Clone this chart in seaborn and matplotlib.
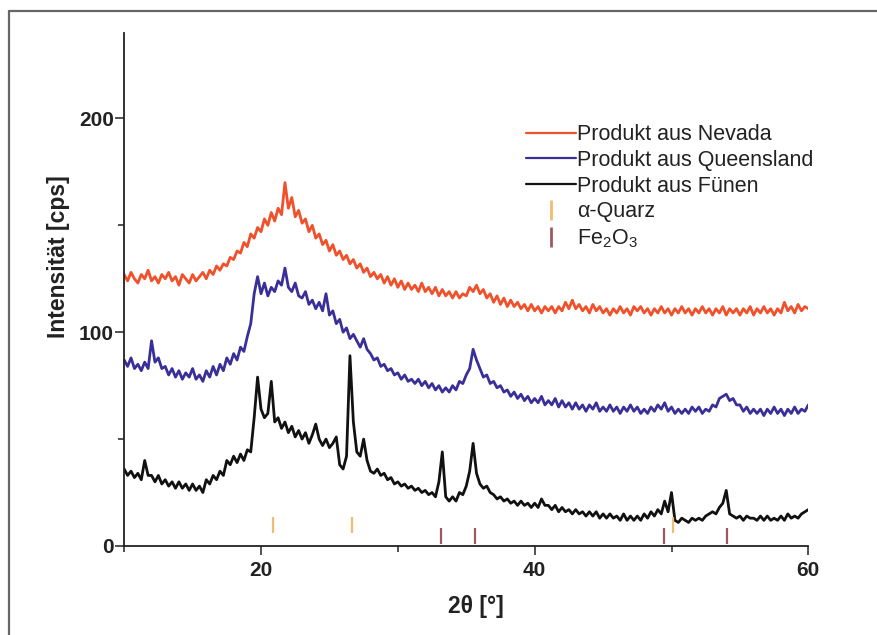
import numpy as np
import pandas as pd
import matplotlib
matplotlib.use("Agg")
import matplotlib.pyplot as plt
import seaborn as sns
from matplotlib.lines import Line2D

# ---- data (2theta grid starts at 10 deg, step 0.25 deg) ----
x_start = 10.0
x_step = 0.25

nevada = [
    127, 124, 128, 125, 123, 127, 125, 129, 124, 126, 123, 127, 125, 128, 124, 126, 122, 127, 125, 123,
    127, 124, 126, 128, 125, 129, 127, 131, 129, 132, 131, 135, 134, 138, 137, 142, 140, 146, 144, 149,
    147, 153, 150, 156, 152, 158, 155, 170, 158, 163, 154, 157, 151, 153, 147, 150, 144, 146, 141, 143,
    138, 141, 136, 138, 134, 136, 132, 134, 130, 132, 128, 130, 126, 128, 125, 127, 123, 126, 122, 125,
    121, 124, 120, 123, 120, 122, 119, 123, 119, 121, 118, 121, 117, 120, 117, 119, 116, 119, 116, 118,
    117, 121, 119, 122, 118, 120, 116, 118, 114, 117, 113, 116, 112, 115, 112, 114, 111, 113, 110, 113,
    110, 112, 109, 112, 110, 112, 109, 112, 110, 114, 111, 115, 111, 113, 110, 112, 109, 113, 110, 112,
    109, 111, 108, 111, 109, 112, 109, 111, 108, 112, 110, 112, 109, 111, 108, 111, 109, 112, 109, 111,
    108, 111, 109, 112, 109, 111, 108, 111, 109, 112, 109, 111, 108, 111, 109, 112, 108, 111, 109, 111,
    108, 111, 109, 112, 108, 111, 109, 112, 109, 111, 108, 111, 109, 114, 110, 112, 109, 113, 110, 112,
    111,
]

queensland = [
    87, 84, 88, 83, 85, 82, 86, 83, 96, 86, 88, 83, 84, 80, 83, 79, 82, 78, 81, 79,
    83, 78, 80, 77, 82, 79, 84, 80, 85, 82, 88, 85, 90, 87, 93, 91, 98, 104, 118, 126,
    118, 123, 117, 121, 119, 124, 122, 130, 121, 119, 123, 117, 116, 119, 113, 115, 111, 114, 110, 118,
    108, 110, 104, 106, 100, 102, 97, 99, 96, 93, 97, 92, 90, 87, 88, 84, 85, 82, 83, 80,
    81, 78, 80, 77, 78, 76, 78, 75, 77, 74, 76, 73, 75, 72, 74, 72, 75, 73, 77, 76,
    80, 83, 92, 87, 83, 79, 80, 76, 77, 74, 75, 72, 73, 70, 72, 69, 71, 68, 70, 67,
    69, 67, 70, 66, 68, 66, 69, 65, 68, 65, 67, 64, 67, 64, 66, 63, 66, 64, 67, 63,
    65, 63, 66, 63, 65, 62, 65, 63, 66, 63, 65, 62, 64, 62, 65, 63, 66, 64, 67, 63,
    65, 62, 64, 62, 64, 62, 65, 63, 65, 62, 64, 63, 66, 65, 69, 70, 71, 68, 69, 66,
    66, 63, 65, 62, 64, 62, 64, 61, 64, 62, 65, 62, 64, 61, 64, 62, 65, 62, 64, 63,
    66,
]

fuenen = [
    36, 33, 35, 32, 34, 31, 40, 33, 33, 30, 33, 29, 31, 28, 30, 27, 30, 27, 29, 26,
    29, 26, 28, 25, 31, 29, 33, 31, 35, 33, 40, 38, 42, 39, 43, 40, 45, 44, 60, 79,
    64, 60, 62, 77, 58, 60, 55, 58, 53, 56, 51, 54, 50, 53, 48, 52, 57, 50, 47, 50,
    46, 48, 51, 38, 36, 42, 89, 58, 44, 42, 50, 40, 35, 34, 36, 33, 34, 31, 32, 29,
    30, 28, 29, 27, 28, 26, 27, 25, 26, 24, 25, 23, 30, 44, 23, 21, 23, 21, 25, 24,
    28, 35, 48, 34, 29, 27, 28, 25, 24, 22, 23, 21, 22, 20, 21, 19, 21, 19, 20, 18,
    20, 18, 22, 19, 19, 17, 19, 16, 18, 16, 17, 15, 17, 15, 16, 14, 16, 14, 16, 13,
    15, 13, 15, 13, 14, 12, 15, 12, 14, 12, 14, 12, 15, 13, 16, 14, 17, 15, 21, 16,
    25, 12, 11, 13, 12, 11, 13, 12, 13, 12, 14, 15, 16, 15, 18, 20, 26, 15, 14, 13,
    14, 12, 14, 13, 13, 12, 14, 12, 14, 12, 13, 12, 14, 12, 15, 13, 14, 13, 15, 16,
    17,
]

quartz_pos = [20.85, 26.64, 50.14]
hematite_pos = [33.15, 35.61, 49.48, 54.09]

labels = ["Produkt aus Nevada", "Produkt aus Queensland", "Produkt aus Fünen"]
ref_labels = ["α-Quarz", "Fe$_2$O$_3$"]

# ---- styling ----
c_nev = "#f0502a"
c_qld = "#3a2f98"
c_fue = "#111111"
c_qz = "#f3bb70"
c_fe = "#9c5a60"

sns.set_style("ticks")
plt.rcParams["font.family"] = ["Liberation Sans", "DejaVu Sans"]
plt.rcParams["mathtext.fontset"] = "custom"
plt.rcParams["mathtext.rm"] = "Liberation Sans"
plt.rcParams["mathtext.it"] = "Liberation Sans:italic"
plt.rcParams["mathtext.bf"] = "Liberation Sans:bold"

frames = []
for name, vals in zip(labels, [nevada, queensland, fuenen]):
    xs = x_start + x_step * np.arange(len(vals))
    frames.append(pd.DataFrame({"x": xs, "y": vals, "s": name}))
df = pd.concat(frames, ignore_index=True)

fig = plt.figure(figsize=(8.77, 6.35), dpi=100)
ax = fig.add_axes([0.1416, 0.1402, 0.7801, 0.8079])

sns.lineplot(data=df, x="x", y="y", hue="s", palette=[c_nev, c_qld, c_fue],
             estimator=None, sort=False, lw=2.0, legend=False, ax=ax)

ax.vlines(quartz_pos, 6, 13.5, color=c_qz, lw=1.6)
ax.vlines(hematite_pos, 1, 8.5, color=c_fe, lw=1.6)

ax.set_xlim(10, 60)
ax.set_ylim(0, 240)
ax.set_xticks([20, 40, 60])
ax.set_xticks([10, 30, 50], minor=True)
ax.set_yticks([0, 100, 200])
ax.set_yticks([50, 150], minor=True)
ax.tick_params(axis="both", which="major", length=6.5, width=1.1, color="#222222",
               labelsize=15, direction="out")
ax.tick_params(axis="both", which="minor", length=4, width=1.1, color="#222222", direction="out")
ax.tick_params(axis="x", pad=4)
ax.tick_params(axis="y", pad=1)
for lab in ax.get_xticklabels() + ax.get_yticklabels():
    lab.set_fontweight("bold")
    lab.set_color("#222222")

for side in ["top", "right"]:
    ax.spines[side].set_visible(False)
for side in ["left", "bottom"]:
    ax.spines[side].set_linewidth(1.3)
    ax.spines[side].set_color("#222222")

ax.set_xlabel("2θ [°]", fontsize=16.5, fontweight="bold", color="#222222")
ax.set_ylabel("Intensität [cps]", fontsize=16.5, fontweight="bold", color="#222222")
ax.xaxis.set_label_coords(0.514, -0.095)
ax.yaxis.set_label_coords(-0.079, 0.564)

handles = [
    Line2D([], [], color=c_nev, lw=1.6),
    Line2D([], [], color=c_qld, lw=1.6),
    Line2D([], [], color=c_fue, lw=1.6),
    Line2D([], [], color=c_qz, marker="|", ls="none", ms=14, mew=2),
    Line2D([], [], color=c_fe, marker="|", ls="none", ms=14, mew=2),
]
leg = ax.legend(handles, labels + ref_labels, loc="upper left",
                bbox_to_anchor=(0.588, 0.822), frameon=False, fontsize=15.5,
                handlelength=2.3, handletextpad=0.05, labelspacing=0.22,
                borderpad=0, borderaxespad=0)
for t in leg.get_texts():
    t.set_color("#222222")

# outer frame (partial border of the original picture)
fig.add_artist(Line2D([9 / 877, 1.0], [1 - 11 / 635, 1 - 11 / 635],
                      transform=fig.transFigure, color="#666666", lw=1.6))
fig.add_artist(Line2D([9 / 877, 9 / 877], [0.0, 1 - 11 / 635],
                      transform=fig.transFigure, color="#666666", lw=1.6))

fig.savefig("out.png", dpi=100)
